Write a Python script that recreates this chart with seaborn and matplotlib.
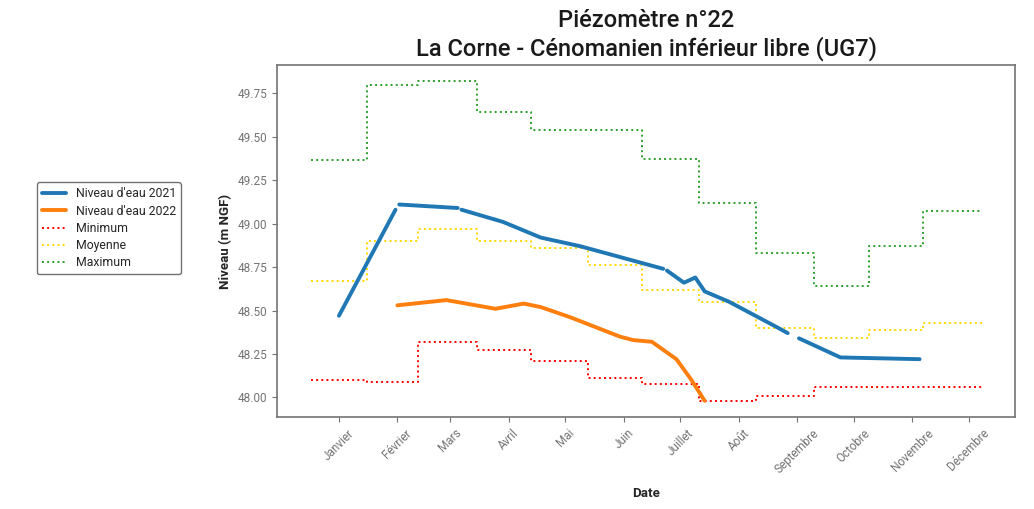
import matplotlib
matplotlib.use('Agg')
import matplotlib.pyplot as plt
import matplotlib.ticker as mticker
import seaborn as sns
import pandas as pd

# Niveau d'eau 2021 (segments separated by missing days)
dates_2021 = ['2021-01-01', '2021-01-31',
              '2021-02-02', '2021-03-05',
              '2021-03-07', '2021-03-29', '2021-04-18', '2021-05-09', '2021-06-22',
              '2021-06-24', '2021-07-03', '2021-07-09', '2021-07-14', '2021-07-27',
              '2021-08-22', '2021-08-27',
              '2021-09-02', '2021-09-24', '2021-11-05']
niveau_2021 = [48.47, 49.08,
               49.11, 49.09,
               49.08, 49.01, 48.92, 48.87, 48.74,
               48.73, 48.66, 48.69, 48.61, 48.55,
               48.40, 48.37,
               48.34, 48.23, 48.22]
segment_2021 = [0, 0, 1, 1, 2, 2, 2, 2, 2, 3, 3, 3, 3, 3, 3, 3, 4, 4, 4]

# Niveau d'eau 2022 (placed on the same calendar axis)
dates_2022 = ['2021-02-01', '2021-02-27', '2021-03-25', '2021-04-09', '2021-04-18',
              '2021-05-04', '2021-05-30', '2021-06-06', '2021-06-16', '2021-06-29',
              '2021-07-07', '2021-07-14']
niveau_2022 = [48.53, 48.56, 48.51, 48.54, 48.52,
               48.46, 48.35, 48.33, 48.32, 48.22,
               48.10, 47.98]

# monthly statistics (step start dates + end date)
stat_dates = ['2020-12-17', '2021-01-16', '2021-02-12', '2021-03-15', '2021-04-13',
              '2021-05-13', '2021-06-11', '2021-07-11', '2021-08-10', '2021-09-10',
              '2021-10-09', '2021-11-07', '2021-12-08']
minimum = [48.10, 48.09, 48.32, 48.27, 48.21, 48.11, 48.08, 47.98, 48.01, 48.06, 48.06, 48.06]
moyenne = [48.67, 48.90, 48.97, 48.90, 48.86, 48.76, 48.62, 48.55, 48.40, 48.34, 48.39, 48.43]
maximum = [49.365, 49.80, 49.82, 49.64, 49.54, 49.54, 49.37, 49.12, 48.83, 48.64, 48.87, 49.07]

mois = ['Janvier', 'Février', 'Mars', 'Avril', 'Mai', 'Juin', 'Juillet', 'Août',
        'Septembre', 'Octobre', 'Novembre', 'Décembre']

sns.set_style('ticks')
plt.rcParams['font.family'] = ['Roboto', 'DejaVu Sans']
plt.rcParams['axes.edgecolor'] = '0.45'
plt.rcParams['axes.linewidth'] = 1.2

df21 = pd.DataFrame({'date': pd.to_datetime(dates_2021), 'niveau': niveau_2021, 'seg': segment_2021})
df22 = pd.DataFrame({'date': pd.to_datetime(dates_2022), 'niveau': niveau_2022})
sdates = pd.to_datetime(stat_dates)

fig, ax = plt.subplots(figsize=(10.34, 5.09), dpi=100)
fig.subplots_adjust(left=0.268, right=0.982, bottom=0.181, top=0.872)

first = True
for seg, part in df21.groupby('seg'):
    sns.lineplot(data=part, x='date', y='niveau', color='#1f77b4', linewidth=2.8,
                 label="Niveau d'eau 2021" if first else None, zorder=4, ax=ax)
    first = False
sns.lineplot(data=df22, x='date', y='niveau', color='#ff7f0e', linewidth=2.8,
             label="Niveau d'eau 2022", zorder=4, ax=ax)

for vals, col, lab in [(minimum, 'red', 'Minimum'),
                       (moyenne, 'gold', 'Moyenne'),
                       (maximum, '#2ca02c', 'Maximum')]:
    sns.lineplot(x=sdates, y=vals + [vals[-1]], drawstyle='steps-post', linestyle=':',
                 linewidth=1.4, color=col, label=lab, zorder=3, ax=ax)

ticks = pd.date_range('2021-01-01', periods=12, freq='MS')
ax.set_xticks(ticks)
ax.set_xticklabels(mois, rotation=45, fontsize=8.5, color='0.35')
ax.yaxis.set_major_locator(mticker.MultipleLocator(0.25))
ax.yaxis.set_major_formatter(mticker.FormatStrFormatter('%.2f'))
ax.tick_params(axis='y', labelsize=8.5, labelcolor='0.35')
ax.tick_params(colors='0.45')

ax.set_title('Piézomètre n°22\nLa Corne - Cénomanien inférieur libre (UG7)',
             fontsize=17, fontweight='medium', color='0.1', pad=7)
ax.set_xlabel('Date', fontsize=9.5, fontweight='bold', labelpad=8)
ax.set_ylabel('Niveau (m NGF)', fontsize=9.5, fontweight='bold')

handles, labels = ax.get_legend_handles_labels()
ax.legend(handles, labels, loc='center right', bbox_to_anchor=(-0.122, 0.536),
          fontsize=8.8, labelspacing=0.35, frameon=True, edgecolor='0.3', fancybox=True)

fig.savefig('out.png', dpi=100)
